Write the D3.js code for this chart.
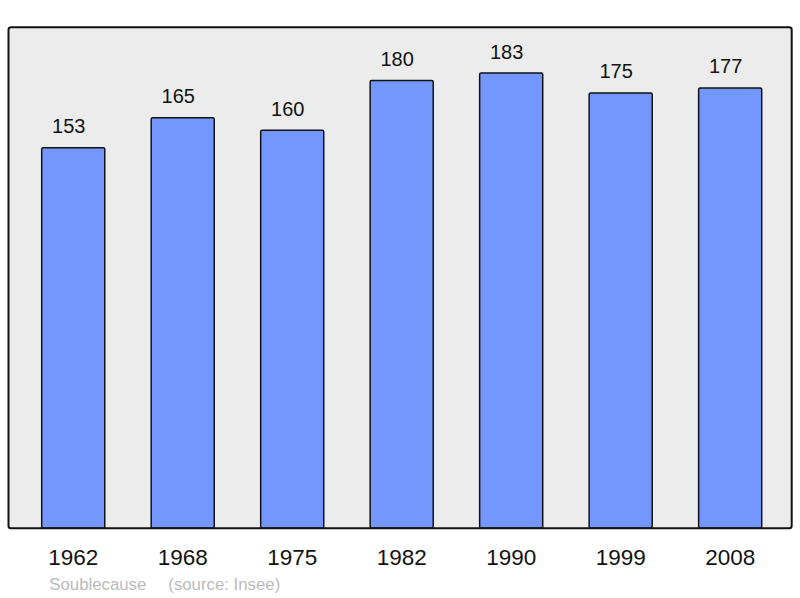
<!DOCTYPE html>
<html><head><meta charset="utf-8">
<script src="https://cdn.jsdelivr.net/npm/d3@7"></script>
<style>body{margin:0;background:#fff}svg{display:block}</style>
</head><body>
<svg id="c" width="800" height="598"></svg>
<script>
const years = ["1962","1968","1975","1982","1990","1999","2008"];
const population = [153,165,160,180,183,175,177];
const title = "Soublecause";
const source = "(source: Insee)";

const svg = d3.select("#c");
const frame = {x0: 8.5, y0: 27.3, x1: 791.7, y1: 528.3};

svg.append("rect").attr("x", frame.x0).attr("y", frame.y0)
  .attr("width", frame.x1 - frame.x0).attr("height", frame.y1 - frame.y0)
  .attr("rx", 2.5).attr("fill", "#ececec").attr("stroke", "none");

const x = d3.scaleBand().domain(years).range([41.7, 761.7]).paddingInner(0.424).paddingOuter(0);
const y = d3.scaleLinear().domain([0, 201.4]).range([frame.y1, frame.y0]);

const data = years.map((yr, i) => ({yr, v: population[i]}));

svg.append("g").selectAll("rect").data(data).join("rect")
  .attr("x", d => x(d.yr)).attr("y", d => y(d.v))
  .attr("width", x.bandwidth()).attr("height", d => y(0) - y(d.v))
  .attr("rx", 1.5)
  .attr("fill", "#7396ff").attr("stroke", "#111").attr("stroke-width", 1.5);

svg.append("g").selectAll("text").data(data).join("text")
  .attr("x", d => x(d.yr) + x.bandwidth()/2 - 4.5)
  .attr("y", d => y(d.v) - 14.5)
  .attr("text-anchor", "middle")
  .attr("font-family", "Liberation Sans, Arial, sans-serif")
  .attr("font-size", 20).attr("fill", "#111")
  .text(d => d.v);

svg.append("rect").attr("x", frame.x0).attr("y", frame.y0)
  .attr("width", frame.x1 - frame.x0).attr("height", frame.y1 - frame.y0)
  .attr("rx", 2.5).attr("fill", "none").attr("stroke", "#111").attr("stroke-width", 2);

const axis = d3.axisBottom(x).tickSize(0).tickPadding(0);
const ag = svg.append("g").attr("transform", `translate(0,${frame.y1})`).call(axis);
ag.select(".domain").remove();
ag.selectAll("text")
  .attr("dy", null).attr("y", 36.7)
  .attr("font-family", "Liberation Sans, Arial, sans-serif")
  .attr("font-size", 22.5).attr("fill", "#111");

svg.append("text").attr("x", 49.3).attr("y", 589.5)
  .attr("font-family", "Liberation Sans, Arial, sans-serif")
  .attr("font-size", 16.8).attr("fill", "#bbbbbb").text(title);
svg.append("text").attr("x", 168.3).attr("y", 589.5)
  .attr("font-family", "Liberation Sans, Arial, sans-serif")
  .attr("font-size", 16.8).attr("fill", "#bbbbbb").text(source);
</script>
</body></html>
